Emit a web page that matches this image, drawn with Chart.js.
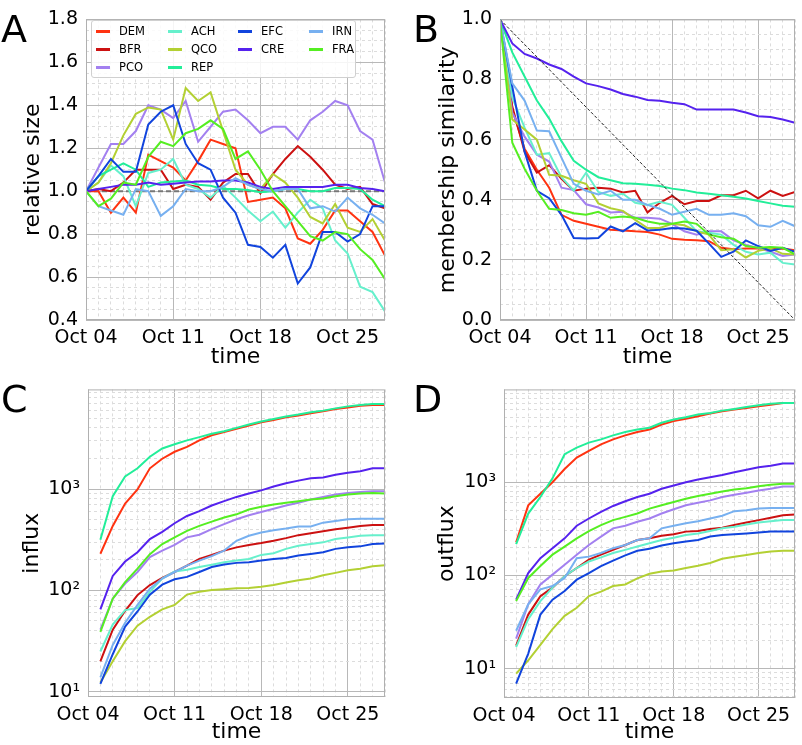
<!DOCTYPE html>
<html>
<head>
<meta charset="utf-8">
<script src="https://cdn.jsdelivr.net/npm/chart.js@4"></script>
<style>
  body { margin: 0; background: #fff; }
  #wrap { position: relative; width: 802px; height: 745px; overflow: hidden; font-family: "DejaVu Sans", sans-serif; }
  canvas { position: absolute; }
  .lbl { position: absolute; font-size: 38px; line-height: 1; color: #000; }
  #legend { position: absolute; left: 91px; top: 20px; width: 263px; height: 56px; background: rgba(255,255,255,0.85);
            border: 1px solid #d0d0d0; border-radius: 3px; font-size: 11.5px; }
  .item { position: absolute; height: 14px; line-height: 14px; }
  .item span { display: inline-block; width: 14px; height: 3px; vertical-align: middle; margin-right: 9px; }
</style>
</head>
<body>
<div id="wrap">
  <canvas id="cA" style="left:0;top:0"></canvas>
  <canvas id="cB" style="left:400px;top:0"></canvas>
  <canvas id="cC" style="left:0;top:370px"></canvas>
  <canvas id="cD" style="left:400px;top:370px"></canvas>
  <div class="lbl" style="left:1px;top:10px">A</div>
  <div class="lbl" style="left:413px;top:10px">B</div>
  <div class="lbl" style="left:1px;top:380px">C</div>
  <div class="lbl" style="left:413px;top:380px">D</div>
  <div id="legend"></div>
</div>
<script>
// dates: day 0 = Oct 04, last day = Oct 28
const xTickLabels = ["Oct 04", "Oct 11", "Oct 18", "Oct 25"];
const groups = ["DEM", "BFR", "PCO", "ACH", "QCO", "REP", "EFC", "CRE", "IRN", "FRA"];
const colors = ["#ff3311", "#cc1111", "#a380f0", "#66f0cc", "#b3d033", "#22ee99", "#1144dd", "#5522ee", "#77b0f0", "#55ee22"];

// A: relative size (Oct 04 .. Oct 28)
const sizeDEM = [1.0, 1.0, 0.90, 0.97, 0.90, 1.17, 1.14, 1.11, 1.05, 1.14, 1.24, 1.22, 1.20, 0.95, 0.96, 0.97, 0.92, 0.78, 0.755, 0.82, 0.91, 0.91, 0.86, 0.81, 0.70];
const sizeBFR = [1.0, 1.01, 1.0, 1.04, 1.10, 1.10, 1.10, 1.01, 1.03, 1.02, 0.96, 1.04, 1.08, 1.08, 0.99, 1.08, 1.15, 1.21, 1.16, 1.10, 1.03, 1.01, 1.02, 0.94, 0.92];
const sizePCO = [1.0, 1.11, 1.22, 1.22, 1.28, 1.40, 1.38, 1.34, 1.42, 1.23, 1.30, 1.37, 1.38, 1.33, 1.27, 1.30, 1.30, 1.24, 1.33, 1.37, 1.42, 1.40, 1.28, 1.24, 1.04];
const sizeACH = [1.0, 1.04, 1.12, 1.07, 0.93, 1.085, 1.10, 1.15, 1.03, 1.01, 0.97, 1.025, 0.97, 0.91, 0.86, 0.905, 0.83, 0.90, 0.96, 0.92, 0.77, 0.71, 0.555, 0.53, 0.44];
const sizeQCO = [1.0, 1.04, 1.13, 1.26, 1.36, 1.39, 1.38, 1.24, 1.48, 1.42, 1.46, 1.28, 1.10, 1.03, 1.01, 1.08, 1.04, 0.97, 0.88, 0.85, 0.94, 0.83, 0.81, 0.87, 0.77];
const sizeREP = [1.0, 1.07, 1.10, 1.13, 1.10, 1.02, 1.04, 1.045, 1.05, 1.03, 1.025, 1.01, 1.01, 1.005, 0.995, 1.0, 1.01, 1.01, 1.0, 1.0, 1.015, 1.015, 1.01, 0.96, 0.93];
const sizeEFC = [1.0, 1.07, 1.15, 1.09, 1.09, 1.31, 1.37, 1.40, 1.22, 1.13, 1.10, 0.97, 0.90, 0.75, 0.74, 0.69, 0.75, 0.57, 0.645, 0.81, 0.81, 0.765, 0.80, 0.93, 0.93];
const sizeCRE = [1.0, 1.01, 1.02, 1.03, 1.03, 1.04, 1.03, 1.035, 1.04, 1.045, 1.045, 1.05, 1.05, 1.04, 1.02, 1.01, 1.02, 1.02, 1.02, 1.02, 1.03, 1.03, 1.015, 1.01, 1.0];
const sizeIRN = [1.0, 0.93, 0.91, 0.89, 1.01, 1.0, 0.885, 0.93, 1.01, 1.0, 1.0, 1.02, 1.06, 1.03, 1.01, 1.0, 1.01, 1.01, 0.92, 0.93, 0.905, 0.97, 0.92, 0.89, 0.85];
const sizeFRA = [1.0, 0.93, 0.965, 1.04, 1.03, 1.16, 1.23, 1.21, 1.27, 1.29, 1.33, 1.29, 1.15, 1.185, 1.10, 1.0, 0.93, 0.86, 0.79, 0.77, 0.81, 0.80, 0.73, 0.68, 0.59];

// B: membership similarity (Oct 04 .. Oct 28)
const simDEM = [1.0, 0.70, 0.57, 0.50, 0.44, 0.35, 0.33, 0.32, 0.31, 0.30, 0.298, 0.295, 0.293, 0.284, 0.27, 0.267, 0.265, 0.262, 0.24, 0.235, 0.238, 0.238, 0.235, 0.238, 0.232];
const simBFR = [1.0, 0.71, 0.56, 0.49, 0.515, 0.47, 0.43, 0.437, 0.44, 0.437, 0.424, 0.43, 0.358, 0.39, 0.413, 0.385, 0.396, 0.396, 0.415, 0.415, 0.43, 0.405, 0.43, 0.413, 0.426];
const simPCO = [1.0, 0.69, 0.61, 0.55, 0.527, 0.44, 0.432, 0.385, 0.374, 0.358, 0.36, 0.34, 0.34, 0.337, 0.32, 0.295, 0.284, 0.295, 0.295, 0.265, 0.25, 0.24, 0.227, 0.213, 0.218];
const simACH = [1.0, 0.74, 0.64, 0.55, 0.555, 0.475, 0.43, 0.49, 0.426, 0.413, 0.42, 0.39, 0.383, 0.393, 0.383, 0.34, 0.295, 0.29, 0.284, 0.25, 0.227, 0.218, 0.224, 0.19, 0.185];
const simQCO = [1.0, 0.667, 0.634, 0.60, 0.483, 0.48, 0.465, 0.453, 0.388, 0.372, 0.363, 0.333, 0.306, 0.306, 0.32, 0.315, 0.295, 0.284, 0.232, 0.235, 0.208, 0.23, 0.238, 0.22, 0.218];
const simREP = [1.0, 0.89, 0.81, 0.73, 0.67, 0.595, 0.53, 0.50, 0.475, 0.465, 0.455, 0.453, 0.45, 0.446, 0.437, 0.432, 0.424, 0.42, 0.415, 0.41, 0.404, 0.396, 0.388, 0.38, 0.377];
const simEFC = [1.0, 0.776, 0.56, 0.43, 0.405, 0.35, 0.273, 0.271, 0.273, 0.311, 0.295, 0.322, 0.298, 0.30, 0.306, 0.304, 0.297, 0.254, 0.21, 0.227, 0.265, 0.246, 0.23, 0.24, 0.227];
const simCRE = [1.0, 0.92, 0.885, 0.87, 0.85, 0.835, 0.81, 0.787, 0.778, 0.767, 0.752, 0.743, 0.732, 0.729, 0.723, 0.718, 0.70, 0.70, 0.70, 0.70, 0.69, 0.678, 0.675, 0.667, 0.656];
const simIRN = [1.0, 0.787, 0.73, 0.63, 0.628, 0.54, 0.453, 0.43, 0.418, 0.43, 0.40, 0.40, 0.383, 0.37, 0.35, 0.36, 0.37, 0.35, 0.35, 0.355, 0.345, 0.315, 0.31, 0.33, 0.312];
const simFRA = [1.0, 0.59, 0.503, 0.43, 0.37, 0.366, 0.355, 0.35, 0.36, 0.34, 0.344, 0.34, 0.328, 0.32, 0.32, 0.328, 0.32, 0.284, 0.275, 0.27, 0.246, 0.24, 0.243, 0.24, 0.218];

// C: influx (Oct 05 .. Oct 28)
const inDEM = [230, 433, 720, 990, 1600, 1990, 2330, 2600, 3020, 3390, 3650, 3930, 4230, 4560, 4800, 5100, 5300, 5580, 5840, 6160, 6380, 6620, 6730, 6730];
const inBFR = [20, 41, 63, 90, 113, 133, 152, 176, 205, 224, 247, 266, 281, 293, 309, 328, 351, 367, 384, 402, 416, 433, 443, 443];
const inPCO = [41, 83, 117, 152, 213, 247, 281, 334, 354, 402, 450, 503, 551, 593, 639, 689, 731, 787, 836, 881, 914, 935, 950, 950];
const inACH = [25, 46, 64, 67, 97, 131, 154, 160, 170, 179, 190, 197, 204, 224, 233, 257, 276, 287, 298, 321, 333, 346, 351, 351];
const inQCO = [12.4, 20, 31.6, 45, 55, 65, 72, 91, 97, 101, 103, 105, 106, 109, 113, 120, 126, 131, 141, 149, 158, 164, 173, 177];
const inREP = [316, 850, 1330, 1600, 2080, 2510, 2760, 3020, 3250, 3510, 3720, 4010, 4320, 4630, 4910, 5180, 5420, 5710, 5930, 6240, 6530, 6730, 6890, 6890];
const inEFC = [12, 23.5, 44, 62, 91, 114, 129, 136, 152, 170, 180, 187, 190, 197, 204, 209, 221, 229, 238, 257, 266, 272, 287, 291];
const inCRE = [65, 139, 193, 238, 321, 378, 460, 542, 605, 688, 760, 836, 902, 970, 1060, 1140, 1210, 1280, 1300, 1380, 1450, 1500, 1600, 1600];
const inIRN = [13.9, 29, 48, 72, 104, 131, 152, 176, 197, 218, 247, 309, 346, 372, 393, 408, 427, 427, 466, 484, 503, 510, 510, 510];
const inFRA = [39, 83, 121, 164, 228, 287, 334, 387, 433, 477, 523, 563, 628, 668, 703, 731, 759, 787, 805, 850, 881, 902, 914, 902];

// D: outflux (Oct 05 .. Oct 28)
const outDEM = [227, 565, 752, 1000, 1385, 1840, 2170, 2550, 2880, 3180, 3450, 3680, 4160, 4520, 4790, 5110, 5450, 5760, 6020, 6250, 6510, 6770, 7070, 7070];
const outBFR = [17.7, 38, 60, 74, 98, 120, 148, 167, 188, 212, 240, 250, 267, 276, 295, 299, 314, 324, 347, 370, 392, 415, 443, 450];
const outPCO = [21, 49, 80, 102, 130, 167, 212, 261, 320, 341, 376, 408, 461, 513, 565, 603, 638, 693, 733, 771, 815, 850, 899, 899];
const outACH = [17, 34, 53, 74, 98, 120, 141, 156, 174, 188, 204, 221, 240, 254, 271, 282, 299, 320, 333, 352, 370, 382, 392, 392];
const outQCO = [8.85, 12.3, 18, 26.6, 36.8, 45, 60, 67, 77, 80, 93, 104, 110, 113, 120, 127, 136, 151, 159, 166, 174, 181, 184, 184];
const outREP = [216, 461, 693, 1100, 1995, 2350, 2660, 2880, 3180, 3450, 3680, 3840, 4340, 4700, 4980, 5320, 5540, 5860, 6110, 6410, 6680, 6950, 7070, 7070];
const outEFC = [6.9, 14.5, 38, 55, 68, 90, 106, 126, 144, 164, 184, 193, 209, 221, 231, 240, 261, 271, 276, 282, 289, 295, 295, 295];
const outCRE = [55, 106, 153, 196, 250, 341, 408, 480, 556, 624, 693, 752, 850, 922, 1000, 1067, 1130, 1197, 1277, 1362, 1444, 1504, 1590, 1590];
const outIRN = [25.5, 49, 71, 77, 94, 153, 159, 174, 196, 212, 240, 250, 320, 341, 362, 382, 408, 436, 489, 500, 521, 530, 530, 530];
const outFRA = [53, 94, 126, 167, 204, 250, 299, 347, 392, 425, 461, 521, 565, 613, 665, 710, 752, 796, 836, 863, 907, 937, 960, 960];

const sizeSeries = [sizeDEM, sizeBFR, sizePCO, sizeACH, sizeQCO, sizeREP, sizeEFC, sizeCRE, sizeIRN, sizeFRA];
const simSeries = [simDEM, simBFR, simPCO, simACH, simQCO, simREP, simEFC, simCRE, simIRN, simFRA];
const inSeries = [inDEM, inBFR, inPCO, inACH, inQCO, inREP, inEFC, inCRE, inIRN, inFRA];
const outSeries = [outDEM, outBFR, outPCO, outACH, outQCO, outREP, outEFC, outCRE, outIRN, outFRA];

Chart.defaults.font.family = "'DejaVu Sans', sans-serif";
Chart.defaults.color = "#000";
Chart.defaults.animation = false;

const majorGrid = "#b8b8b8";
const minorGrid = "#dcdcdc";

function setSize(id, w, h) {
    const c = document.getElementById(id);
    c.width = w; c.height = h;
    c.style.width = w + "px"; c.style.height = h + "px";
    return c;
}

// frame round the plot area, like the four spines
const framePlugin = {
    id: "frame",
    afterDraw(chart) {
        const a = chart.chartArea, ctx = chart.ctx;
        ctx.save();
        ctx.strokeStyle = "#b0b0b0";
        ctx.lineWidth = 1;
        ctx.strokeRect(a.left + 0.5, a.top + 0.5, a.right - a.left - 1, a.bottom - a.top - 1);
        ctx.restore();
    }
};

function makeDatasets(series, start) {
    return series.map((vals, i) => ({
        label: groups[i],
        data: vals.map((v, k) => ({ x: k + start, y: v })),
        borderColor: colors[i],
        borderWidth: 2,
        pointRadius: 0,
        tension: 0,
        fill: false,
        order: 20 - i
    }));
}

function xScale(axisHeight) {
    return {
        type: "linear", min: 0, max: 24,
        afterFit: s => { s.height = axisHeight; },
        ticks: {
            stepSize: 1, autoSkip: false, maxRotation: 0, padding: 7,
            font: { size: 19 },
            callback: v => (v % 7 === 0 ? xTickLabels[v / 7] : "")
        },
        grid: {
            drawTicks: false,
            color: c => (c.tick && c.tick.value % 7 === 0 ? majorGrid : minorGrid),
            lineWidth: 1
        },
        border: { display: false, dash: c => (c.tick && c.tick.value % 7 !== 0 ? [3, 3] : []) },
        title: { display: true, text: "time", font: { size: 22 }, padding: { top: 0, bottom: 0 } }
    };
}

function linY(min, max, title, width, titlePad) {
    const isMajor = v => Math.round(v * 100) % 20 === 0;
    return {
        type: "linear", min: min, max: max,
        afterFit: s => { s.width = width; },
        ticks: {
            stepSize: 0.05, autoSkip: false, padding: 8, font: { size: 19 },
            callback: v => (isMajor(v) ? v.toFixed(1) : "")
        },
        grid: {
            drawTicks: false,
            color: c => (c.tick && isMajor(c.tick.value) ? majorGrid : minorGrid),
            lineWidth: 1
        },
        border: { display: false, dash: c => (c.tick && !isMajor(c.tick.value) ? [3, 3] : []) },
        title: { display: true, text: title, font: { size: 22 }, padding: { top: titlePad, bottom: 0 } }
    };
}

const sup = { 1: "¹", 2: "²", 3: "³", 4: "⁴" };
function logY(min, max, title, width, titlePad) {
    const isMajor = v => Math.abs(Math.log10(v) - Math.round(Math.log10(v))) < 1e-9;
    return {
        type: "logarithmic", min: min, max: max,
        afterFit: s => { s.width = width; },
        afterBuildTicks: s => {
            const t = [];
            for (let e = 0; e <= 4; e++) {
                for (let m = 1; m <= 9; m++) {
                    const v = m * Math.pow(10, e);
                    if (v >= min && v <= max) t.push({ value: v });
                }
            }
            s.ticks = t;
        },
        ticks: {
            autoSkip: false, padding: 8, font: { size: 19 },
            callback: v => (isMajor(v) ? "10" + sup[Math.round(Math.log10(v))] : "")
        },
        grid: {
            drawTicks: false,
            color: c => (c.tick && isMajor(c.tick.value) ? majorGrid : minorGrid),
            lineWidth: 1
        },
        border: { display: false, dash: c => (c.tick && !isMajor(c.tick.value) ? [3, 3] : []) },
        title: { display: true, text: title, font: { size: 22 }, padding: { top: titlePad, bottom: 0 } }
    };
}

function baseOptions(pad, scales) {
    return {
        responsive: false,
        layout: { padding: pad },
        plugins: { legend: { display: false }, tooltip: { enabled: false } },
        scales: scales
    };
}

// Panel A
const dsA = makeDatasets(sizeSeries, 0);
dsA.unshift({
    label: "ref", data: [{ x: 0, y: 1 }, { x: 24, y: 1 }],
    borderColor: "#777", borderWidth: 2, borderDash: [5, 3], pointRadius: 0, order: 30
});
new Chart(setSize("cA", 392, 370), {
    type: "line",
    data: { datasets: dsA },
    options: baseOptions({ top: 15, right: 5, left: 0, bottom: 0 },
        { x: xScale(50), y: linY(0.4, 1.8, "relative size", 86, 20) }),
    plugins: [framePlugin]
});

// Panel B
const dsB = makeDatasets(simSeries, 0);
dsB.push({
    label: "ref", data: [{ x: 0, y: 1 }, { x: 24, y: 0 }],
    borderColor: "#222", borderWidth: 1, borderDash: [3, 2], pointRadius: 0, order: 0
});
new Chart(setSize("cB", 402, 370), {
    type: "line",
    data: { datasets: dsB },
    options: baseOptions({ top: 15, right: 0, left: 0, bottom: 0 },
        { x: xScale(50), y: linY(0, 1.0, "membership similarity", 100, 35) }),
    plugins: [framePlugin]
});

// Panel C
new Chart(setSize("cC", 392, 375), {
    type: "line",
    data: { datasets: makeDatasets(inSeries, 1) },
    options: baseOptions({ top: 15, right: 5, left: 0, bottom: 0 },
        { x: xScale(48), y: logY(8.9, 9600, "influx", 88, 19) }),
    plugins: [framePlugin]
});

// Panel D
new Chart(setSize("cD", 402, 375), {
    type: "line",
    data: { datasets: makeDatasets(outSeries, 1) },
    options: baseOptions({ top: 15, right: 0, left: 0, bottom: 0 },
        { x: xScale(47), y: logY(4.84, 9900, "outflux", 104, 34) }),
    plugins: [framePlugin]
});

// legend for panel A, four columns filled top to bottom
const legend = document.getElementById("legend");
const colX = [4, 76, 146, 217];
groups.forEach((g, i) => {
    const col = i < 3 ? 0 : i < 6 ? 1 : i < 8 ? 2 : 3;
    const row = i < 3 ? i : i < 6 ? i - 3 : i < 8 ? i - 6 : i - 8;
    const d = document.createElement("div");
    d.className = "item";
    d.style.left = colX[col] + "px";
    d.style.top = (3 + row * 18) + "px";
    d.innerHTML = `<span style="background:${colors[i]}"></span>${g}`;
    legend.appendChild(d);
});
</script>
</body>
</html>
